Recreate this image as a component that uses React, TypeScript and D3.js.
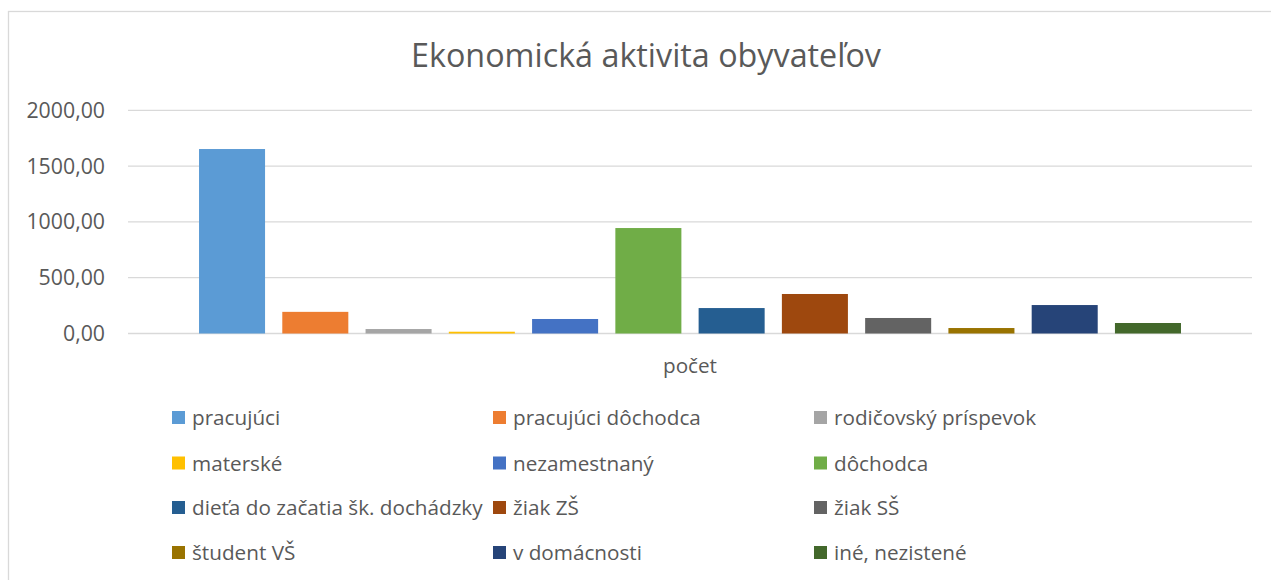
import * as d3 from 'd3';

const categories = [
  'pracujúci',
  'pracujúci dôchodca',
  'rodičovský príspevok',
  'materské',
  'nezamestnaný',
  'dôchodca',
  'dieťa do začatia šk. dochádzky',
  'žiak ZŠ',
  'žiak SŠ',
  'študent VŠ',
  'v domácnosti',
  'iné, nezistené',
];
const values = [1653, 194, 40, 16, 130, 945, 228, 354, 139, 49, 255, 94];
const colors = [
  '#5B9BD5', '#ED7D31', '#A5A5A5', '#FFC000', '#4472C4', '#70AD47',
  '#255E91', '#9E480E', '#636363', '#997300', '#264478', '#43682B',
];
const yTicks = [0, 500, 1000, 1500, 2000];
const axisLabel = 'počet';
const title = 'Ekonomická aktivita obyvateľov';

const W = 1271;
const H = 580;
const font = '"Open Sans", sans-serif';
const textColor = '#595959';

export default function App() {
  // plocha grafu
  const plot = { left: 128, right: 1252, top: 110.3, bottom: 333.5 };

  const x = d3.scaleBand<string>()
    .domain(categories)
    .range([plot.left, plot.right])
    .paddingInner(0.207)
    .paddingOuter(0.853);

  const y = d3.scaleLinear()
    .domain([0, 2000])
    .range([plot.bottom, plot.top]);

  const fmt = (v: number) => d3.format('.2f')(v).replace('.', ',');

  // legenda: 3 stĺpce, 4 riadky
  const legendCols = [172, 493, 814];
  const legendRows = [418, 463.5, 508, 553];

  return (
    <svg
      width={W}
      height={H}
      style={{ position: 'absolute', left: 0, top: 0, background: '#fff' }}
      fontFamily={font}
    >
      <rect x={8.5} y={11.5} width={W} height={H} fill="#fff" stroke="#d9d9d9" strokeWidth={1.3} />

      <text x={646} y={67} textAnchor="middle" fontSize={32.3} fill={textColor}>
        {title}
      </text>

      {yTicks.map(t => (
        <g key={t}>
          <line x1={plot.left} x2={plot.right} y1={y(t)} y2={y(t)} stroke="#d9d9d9" strokeWidth={1.3} />
          <text x={105} y={y(t)} dy="0.35em" textAnchor="end" fontSize={21.3} fill={textColor}>
            {fmt(t)}
          </text>
        </g>
      ))}

      {categories.map((c, i) => (
        <rect
          key={c}
          x={x(c)}
          y={y(values[i])}
          width={x.bandwidth()}
          height={y(0) - y(values[i])}
          fill={colors[i]}
        />
      ))}

      <text x={690} y={373} textAnchor="middle" fontSize={20.7} fill={textColor}>
        {axisLabel}
      </text>

      {categories.map((c, i) => {
        const lx = legendCols[i % 3];
        const ly = legendRows[Math.floor(i / 3)];
        return (
          <g key={c}>
            <rect x={lx} y={ly - 7} width={13} height={13} fill={colors[i]} />
            <text x={lx + 20} y={ly} dy="0.35em" fontSize={20.7} fill={textColor}>
              {c}
            </text>
          </g>
        );
      })}
    </svg>
  );
}
